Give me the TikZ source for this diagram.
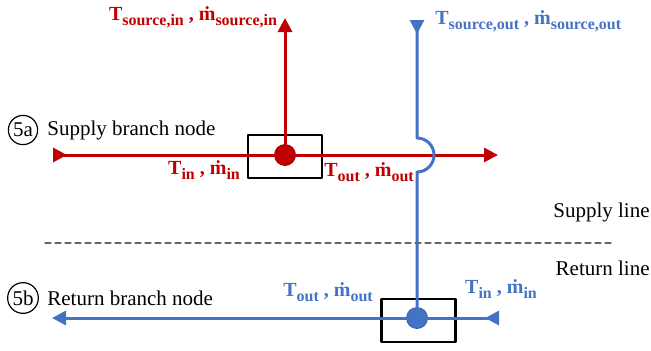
\documentclass[tikz,border=0pt]{standalone}
\usepackage{fontspec}
\setmainfont{Liberation Serif}
\usepackage{tikz}
\usetikzlibrary{arrows.meta}
\usetikzlibrary{positioning}
\definecolor{pipered}{RGB}{192,0,0}
\definecolor{pipeblue}{RGB}{68,114,196}
\newcommand{\lsub}[1]{\raisebox{-0.5ex}{\footnotesize #1}}

\begin{document}
\begin{tikzpicture}[line cap=round,line join=round, x=0.5pt,y=-0.5pt,
  redline/.style={line width=1.5pt, color=pipered},
  blueline/.style={line width=1.5pt, color=pipeblue},
  dot/.style={circle, fill=#1, draw=#1!80!black, minimum size=10.5pt, inner sep=0pt},
  junction/.style={draw=black, line width=1.3pt, minimum width=37pt, minimum height=21.5pt, inner sep=0pt},
  tag/.style={circle, draw=black, line width=0.6pt, inner sep=0.9pt, font=\fontsize{10.5}{12}\selectfont},
  txt/.style={font=\fontsize{10.5}{12}\selectfont, inner sep=0pt},
  lbl/.style={font=\fontsize{10}{12}\selectfont\bfseries, inner sep=0pt, text=#1}]
\useasboundingbox (0,0) rectangle (651,350);
% supply branch
\node[junction] (sbox) at (285,156.5) {};
\node[dot=pipered] (sn) at (285,155) {};
\coordinate (sL) at (53,155);
\coordinate (sR) at (498,155);
\coordinate (sT) at (285,18);
\draw [redline, {Triangle[reversed, length=7pt, width=7pt]}-{Triangle[length=7pt, width=7pt]}] (sL) -- (sR);
\draw [redline, -{Triangle[length=7pt, width=7pt]}] (sn) -- (sT);
\node[tag] (t5a) at (23,130) {5a};
\node[txt, anchor=west] (sname) at (47,130) {Supply branch node};
\node[lbl=pipered] (srcin) at (193,17) {T\lsub{source,in} , ṁ\lsub{source,in}};
\node[lbl=pipered] (sin) at (204,170) {T\lsub{in} , ṁ\lsub{in}};
\node[lbl=pipered] (sout) at (369,172) {T\lsub{out} , ṁ\lsub{out}};
% return branch
\node[junction] (rbox) at (418.5,320.5) {};
\node[dot=pipeblue] (rn) at (417,318) {};
\coordinate (bT) at (417,20);
\coordinate (rL) at (52,318);
\coordinate (rR) at (499,318);
\draw [blueline, {Triangle[reversed, length=7pt, width=7pt]}-] (bT) -- (417,138)
  arc[start angle=-90, end angle=90, radius=17] -- (rn);
\draw [blueline, {Triangle[reversed, length=7pt, width=7pt]}-{Triangle[length=7pt, width=7pt]}] (rR) -- (rL);
\node[tag] (t5b) at (23,298) {5b};
\node[txt, anchor=west] (rname) at (47,298) {Return branch node};
\node[lbl=pipeblue, anchor=west] (srcout) at (435,21) {T\lsub{source,out} , ṁ\lsub{source,out}};
\node[lbl=pipeblue] (rout) at (328,292) {T\lsub{out} , ṁ\lsub{out}};
\node[lbl=pipeblue] (rin) at (501,289) {T\lsub{in} , ṁ\lsub{in}};
% separation of the two lines
\coordinate (dL) at (45,243);
\coordinate (dR) at (612,243);
\draw [gray!80!black, line width=0.6pt, dash pattern=on 3pt off 2pt] (dL) -- (dR);
\node[txt, anchor=east] (supl) at (650,212) {Supply line};
\node[txt, anchor=east] (retl) at (650,268) {Return line};
\end{tikzpicture}
\end{document}
